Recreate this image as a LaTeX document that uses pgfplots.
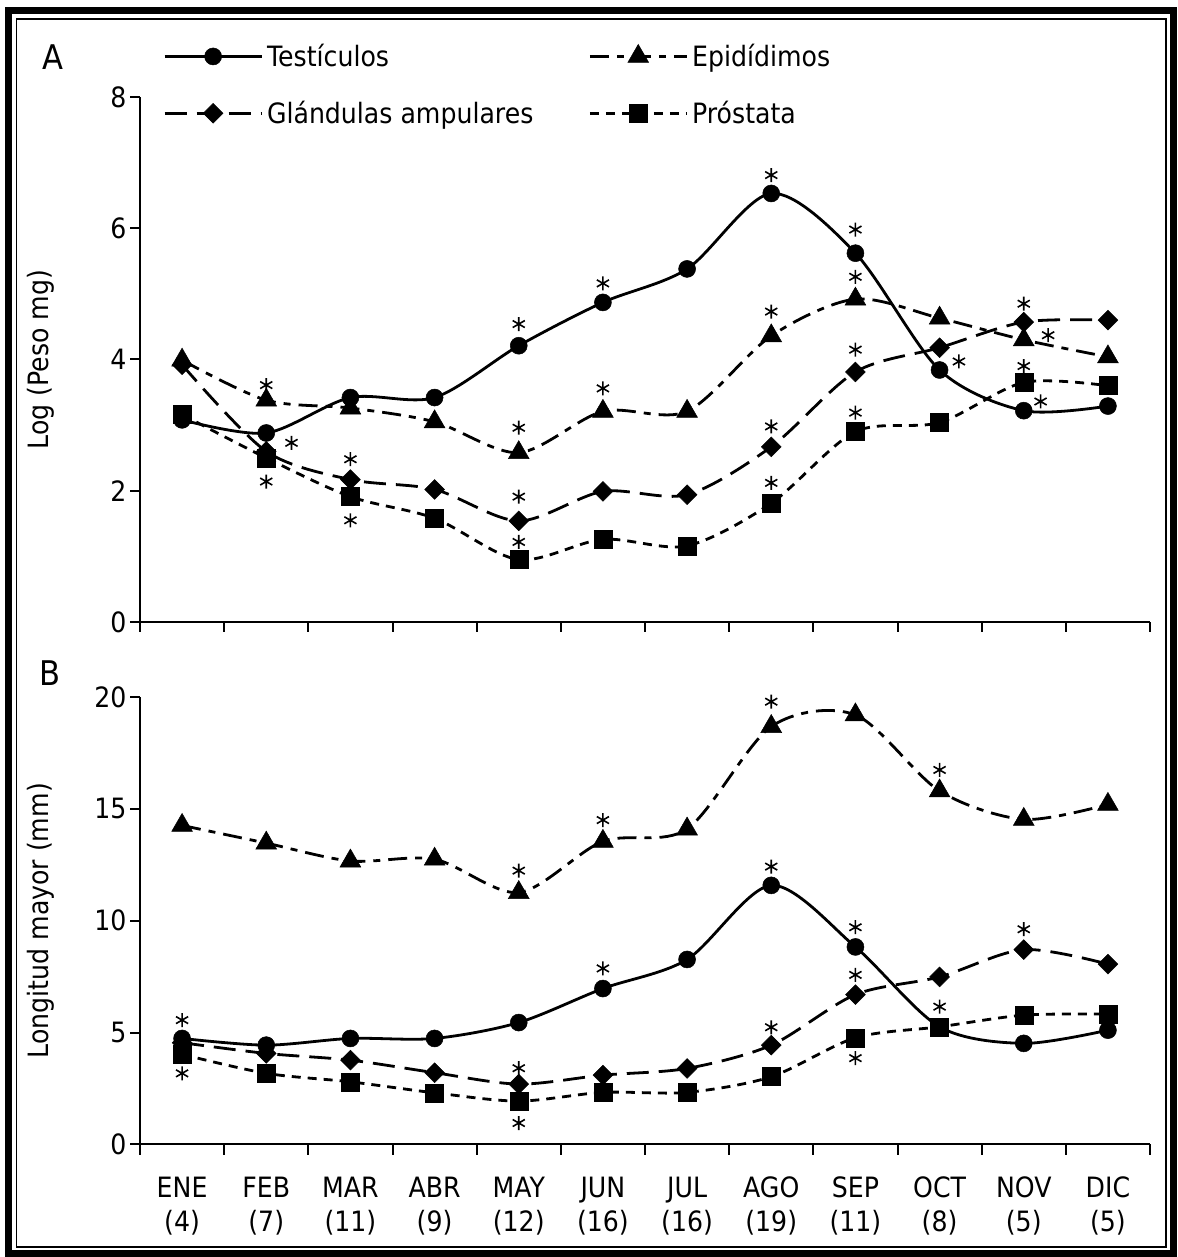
\documentclass[border=0pt]{standalone}
\usepackage{pgfplots}
\pgfplotsset{compat=1.18}
\usepackage{fontspec}
\setmainfont{DejaVu Sans}[FakeStretch=0.9]
\newcommand{\fs}{\fontsize{28}{34}\selectfont}
\pgfplotsset{
 panel/.style={
  scale only axis, width=1010pt,
  xmin=-0.5, xmax=11.5,
  axis x line*=bottom, axis y line*=left,
  axis line style={line width=2pt, black},
  every tick/.style={line width=2pt, black},
  tick align=outside, major tick length=10pt,
  xtick={-0.5,0.5,...,11.5}, xticklabels={},
  ticklabel style={font=\fs},
  /pgf/number format/assume math mode=true,
  clip=false,
  every axis plot/.append style={line width=2.8pt, black, smooth},
 },
 testi/.style={solid, mark=*, mark size=8.5pt, mark options={solid, line width=0.5pt}},
 epi/.style={dash pattern=on 19pt off 8pt on 7pt off 8pt, mark=triangle*, mark size=12pt, mark options={solid, line width=0.5pt}},
 glan/.style={dash pattern=on 22pt off 10pt, mark=square*, mark size=7pt, mark options={solid, rotate=45, line width=0.5pt}},
 pros/.style={dash pattern=on 9pt off 7pt, mark=square*, mark size=9pt, mark options={solid, line width=0.5pt}},
 ast/.style={only marks, mark=asterisk, mark size=7pt, mark options={solid, line width=1.6pt}, forget plot},
}
\begin{document}
\begin{tikzpicture}[x=1pt,y=1pt]
\useasboundingbox (0,0) rectangle (1177,1257);
\draw[line width=7pt] (8.5,3.5) rectangle (1173.5,1246.5);
\draw[line width=1.5pt] (16.5,10) rectangle (1166,1238);
\node[font=\fontsize{34}{34}\selectfont] at (53,1200) {A};
\node[font=\fontsize{34}{34}\selectfont] at (50,584) {B};

% Panel A
\begin{axis}[panel, at={(140pt,635pt)}, anchor=south west, height=525pt,
  ymin=0, ymax=8, ytick={0,2,4,6,8},
  ylabel={Log (Peso mg)},
  every axis y label/.style={at={(axis description cs:-0.098,0.5)}, rotate=90, anchor=center, font=\fs},
  legend columns=2, legend cell align=left,
  legend style={at={(axis description cs:0.0228,1.108)}, anchor=north west, draw=none, fill=none, font=\fs,
    row sep=25pt, inner sep=0pt, nodes={inner sep=4pt},
    /tikz/every even column/.append style={column sep=51pt}},
  legend image code/.code={\draw[mark repeat=2,mark phase=2,#1] plot coordinates {(0pt,0pt) (48.5pt,0pt) (97pt,0pt)};},
]
\addplot[testi] coordinates {(0,3.08)(1,2.88)(2,3.42)(3,3.42)(4,4.21)(5,4.87)(6,5.38)(7,6.53)(8,5.62)(9,3.84)(10,3.22)(11,3.29)};
\addlegendentry{Testículos}
\addplot[epi] coordinates {(0,3.99)(1,3.38)(2,3.26)(3,3.05)(4,2.58)(5,3.21)(6,3.21)(7,4.36)(8,4.92)(9,4.63)(10,4.30)(11,4.04)};
\addlegendentry{Epidídimos}
\addplot[glan] coordinates {(0,3.92)(1,2.60)(2,2.17)(3,2.02)(4,1.54)(5,1.99)(6,1.94)(7,2.67)(8,3.81)(9,4.18)(10,4.57)(11,4.60)};
\addlegendentry{Glándulas ampulares}
\addplot[pros] coordinates {(0,3.16)(1,2.50)(2,1.91)(3,1.58)(4,0.95)(5,1.26)(6,1.16)(7,1.81)(8,2.90)(9,3.04)(10,3.65)(11,3.60)};
\addlegendentry{Próstata}
\addplot[ast] coordinates {(4,4.54)(5,5.16)(7,6.81)(8,5.98)(9.23,3.97)(10.2,3.36)};
\addplot[ast] coordinates {(1,3.61)(4,2.96)(5,3.56)(7,4.73)(8,5.26)(10.29,4.37)};
\addplot[ast] coordinates {(1.30,2.73)(2,2.48)(4,1.91)(7,2.98)(8,4.15)(10,4.85)};
\addplot[ast] coordinates {(1,2.14)(2,1.55)(4,1.22)(7,2.12)(8,3.19)(10,3.90)};
\end{axis}

% Panel B
\begin{axis}[panel, at={(140pt,112.5pt)}, anchor=south west, height=447.5pt,
  ymin=0, ymax=20, ytick={0,5,10,15,20},
  ylabel={Longitud mayor (mm)},
  every axis y label/.style={at={(axis description cs:-0.098,0.5)}, rotate=90, anchor=center, font=\fs},
  extra x ticks={0,...,11},
  extra x tick labels={ENE\\(4),FEB\\(7),MAR\\(11),ABR\\(9),MAY\\(12),JUN\\(16),JUL\\(16),AGO\\(19),SEP\\(11),OCT\\(8),NOV\\(5),DIC\\(5)},
  extra x tick style={major tick length=0pt, xticklabel style={align=center, yshift=-29pt, font=\fs}},
]
\addplot[testi] coordinates {(0,4.74)(1,4.44)(2,4.74)(3,4.74)(4,5.45)(5,6.97)(6,8.27)(7,11.58)(8,8.83)(9,5.26)(10,4.52)(11,5.11)};
\addplot[epi] coordinates {(0,14.26)(1,13.47)(2,12.67)(3,12.75)(4,11.26)(5,13.55)(6,14.1)(7,18.68)(8,19.2)(9,15.8)(10,14.53)(11,15.2)};
\addplot[glan] coordinates {(0,4.55)(1,4.07)(2,3.77)(3,3.21)(4,2.70)(5,3.10)(6,3.40)(7,4.44)(8,6.70)(9,7.49)(10,8.71)(11,8.06)};
\addplot[pros] coordinates {(0,4.03)(1,3.18)(2,2.80)(3,2.31)(4,1.94)(5,2.33)(6,2.33)(7,3.03)(8,4.77)(9,5.26)(10,5.78)(11,5.83)};
\addplot[ast] coordinates {(4,12.24)(5,14.50)(7,19.79)(9,16.74)};
\addplot[ast] coordinates {(0,5.56)(5,7.87)(7,12.42)(8,9.71)};
\addplot[ast] coordinates {(4,3.41)(7,5.24)(8,7.58)(10,9.62)};
\addplot[ast] coordinates {(0,3.18)(4,0.96)(8,3.86)(9,6.16)};
\end{axis}
\end{tikzpicture}
\end{document}
